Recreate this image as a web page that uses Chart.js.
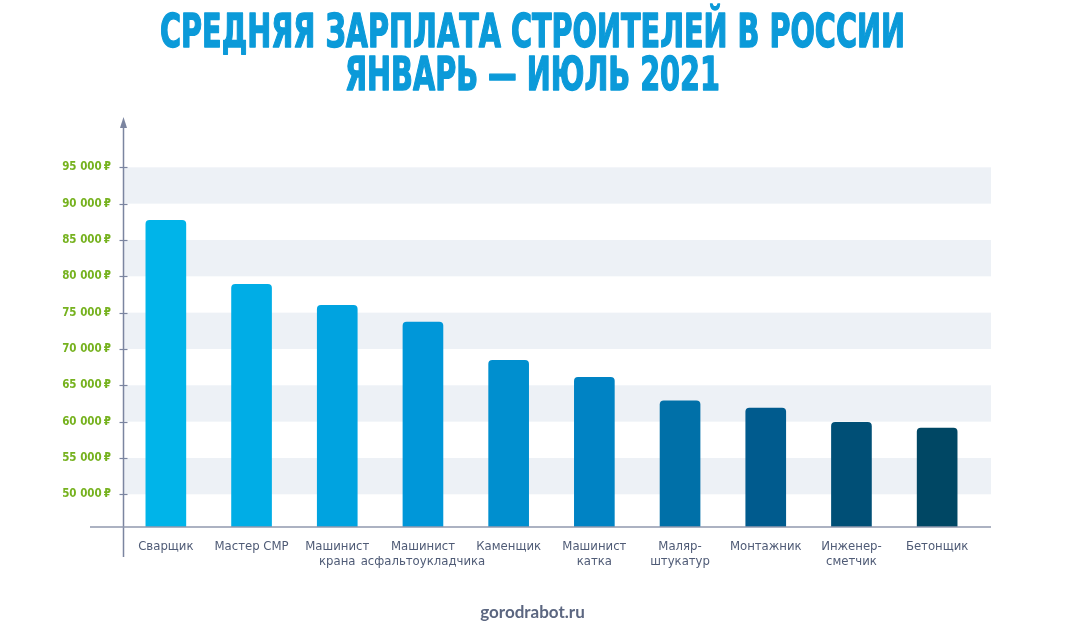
<!DOCTYPE html>
<html>
<head>
<meta charset="utf-8">
<script src="https://cdn.jsdelivr.net/npm/chart.js@4.4.1/dist/chart.umd.min.js"></script>
<style>
  html, body { margin: 0; padding: 0; background: #ffffff; }
  #wrap { width: 1065px; height: 635px; }
</style>
</head>
<body>
<div id="wrap"><canvas id="chart" width="1065" height="635"></canvas></div>
<script>
// данные с картинки
var titleLines = ["СРЕДНЯЯ ЗАРПЛАТА СТРОИТЕЛЕЙ В РОССИИ", "ЯНВАРЬ — ИЮЛЬ 2021"];
var footerText = "gorodrabot.ru";

var professions = [
    ["Сварщик"],
    ["Мастер СМР"],
    ["Машинист", "крана"],
    ["Машинист", "асфальтоукладчика"],
    ["Каменщик"],
    ["Машинист", "катка"],
    ["Маляр-", "штукатур"],
    ["Монтажник"],
    ["Инженер-", "сметчик"],
    ["Бетонщик"]
];
var salaries = [87700, 78900, 76000, 73700, 68450, 66100, 62850, 61850, 59900, 59100];
var barColors = ["#00b4e9", "#00ade6", "#00a3e0", "#0097d9", "#008fcf",
                 "#0083c4", "#0070a8", "#005b8e", "#004f76", "#004764"];
var yTicks = [50000, 55000, 60000, 65000, 70000, 75000, 80000, 85000, 90000, 95000];

var AXIS_COLOR = "#7b85a0";
var TEXT_COLOR = "#4f5b76";

// полосы фона, оси со стрелкой, заголовок и подпись
var decorPlugin = {
    id: "decor",
    beforeDatasetsDraw: function (chart) {
        var ctx = chart.ctx;
        var area = chart.chartArea;
        var y = chart.scales.y;
        ctx.save();
        ctx.fillStyle = "#edf1f6";
        for (var i = 0; i < yTicks.length - 1; i += 2) {
            var top = y.getPixelForValue(yTicks[i + 1]);
            var bottom = y.getPixelForValue(yTicks[i]);
            ctx.fillRect(area.left, top, area.right + 11 - area.left, bottom - top);
        }
        ctx.restore();
    },
    afterDatasetsDraw: function (chart) {
        var ctx = chart.ctx;
        var area = chart.chartArea;
        var y = chart.scales.y;
        var x0 = Math.round(area.left) + 0.5;
        ctx.save();
        ctx.strokeStyle = AXIS_COLOR;
        ctx.lineWidth = 1.5;
        // вертикальная ось
        ctx.beginPath();
        ctx.moveTo(x0, area.top - 6);
        ctx.lineTo(x0, area.bottom + 30);
        ctx.stroke();
        // базовая линия
        ctx.strokeStyle = "#9199ae";
        ctx.beginPath();
        ctx.moveTo(area.left - 33, area.bottom);
        ctx.lineTo(area.right + 11, area.bottom);
        ctx.stroke();
        // засечки
        ctx.strokeStyle = AXIS_COLOR;
        ctx.lineWidth = 1.2;
        yTicks.forEach(function (v) {
            var py = Math.round(y.getPixelForValue(v)) + 0.5;
            ctx.beginPath();
            ctx.moveTo(x0 - 4, py);
            ctx.lineTo(x0 + 4, py);
            ctx.stroke();
        });
        // стрелка
        ctx.fillStyle = AXIS_COLOR;
        ctx.beginPath();
        ctx.moveTo(x0, area.top - 14);
        ctx.lineTo(x0 - 3.5, area.top - 3);
        ctx.lineTo(x0 + 3.5, area.top - 3);
        ctx.closePath();
        ctx.fill();
        ctx.restore();
    },
    afterDraw: function (chart) {
        var ctx = chart.ctx;
        var cx = chart.width / 2;
        ctx.save();
        ctx.fillStyle = "#0b9ad9";
        ctx.strokeStyle = "#0b9ad9";
        ctx.lineWidth = 1.4;
        ctx.lineJoin = "round";
        ctx.textAlign = "center";
        ctx.textBaseline = "alphabetic";
        ctx.font = 'bold 47px "DejaVu Sans Condensed", "Liberation Sans Narrow", sans-serif';
        var sx = 745 / ctx.measureText(titleLines[0]).width;
        var baselines = [47, 90];
        titleLines.forEach(function (line, i) {
            ctx.save();
            ctx.translate(cx, baselines[i]);
            ctx.scale(sx, 1);
            ctx.fillText(line, 0, 0);
            ctx.strokeText(line, 0, 0);
            ctx.restore();
        });
        ctx.fillStyle = "#5b6680";
        ctx.font = 'bold 17px Lato, "Open Sans", sans-serif';
        ctx.textBaseline = "middle";
        ctx.fillText(footerText, cx, 613);
        ctx.restore();
    }
};

var chart = new Chart(document.getElementById("chart"), {
    type: "bar",
    data: {
        labels: professions,
        datasets: [{
            data: salaries,
            backgroundColor: barColors,
            borderWidth: 0,
            borderRadius: 4,
            borderSkipped: "bottom",
            barThickness: 40
        }]
    },
    options: {
        responsive: false,
        devicePixelRatio: 1,
        animation: false,
        layout: { padding: { top: 131, right: 85, bottom: 0, left: 0 } },
        plugins: {
            legend: { display: false },
            title: { display: false },
            tooltip: { enabled: false }
        },
        scales: {
            x: {
                grid: { display: false },
                border: { display: false },
                ticks: {
                    autoSkip: false,
                    maxRotation: 0,
                    padding: 4,
                    color: TEXT_COLOR,
                    font: { family: '"DejaVu Sans Condensed", "Liberation Sans Narrow", sans-serif', size: 13, lineHeight: 1.15 }
                },
                afterFit: function (scale) { scale.height = 108; }
            },
            y: {
                min: 45500,
                max: 100000,
                grid: { display: false },
                border: { display: false },
                afterBuildTicks: function (scale) {
                    scale.ticks = yTicks.map(function (v) { return { value: v }; });
                },
                ticks: {
                    padding: 4,
                    color: "#76b21f",
                    font: { family: '"DejaVu Sans Condensed", "Liberation Sans Narrow", sans-serif', size: 11.5, weight: "bold" },
                    callback: function (value) {
                        return (value / 1000) + " 000\u202F₽";
                    }
                },
                afterFit: function (scale) { scale.width = 123; }
            }
        }
    },
    plugins: [decorPlugin]
});
</script>
</body>
</html>
